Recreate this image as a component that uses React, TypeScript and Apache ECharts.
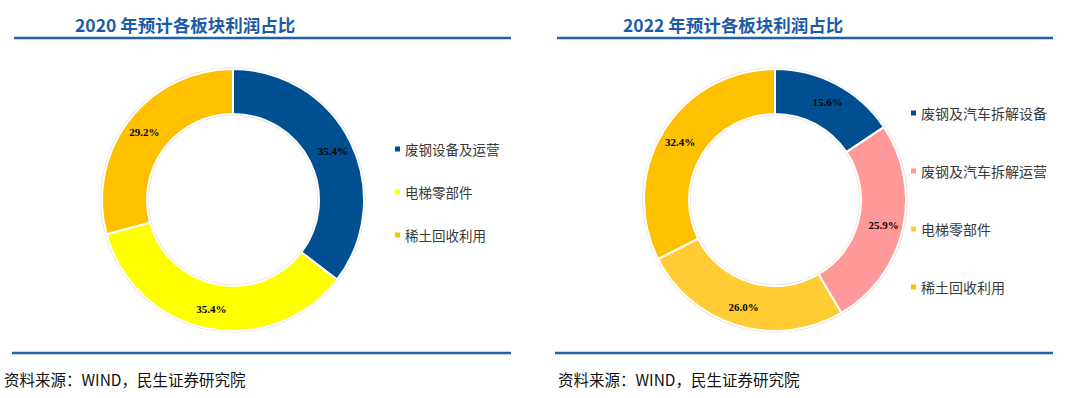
import React, { useEffect, useRef } from "react";
import * as echarts from "echarts";

const leftTitle = "2020 年预计各板块利润占比";
const leftNames = ["废钢设备及运营", "电梯零部件", "稀土回收利用"];
const leftValues = [35.4, 35.4, 29.2];
const leftColors = ["#004F90", "#FFFF00", "#FFC000"];

const rightTitle = "2022 年预计各板块利润占比";
const rightNames = ["废钢及汽车拆解设备", "废钢及汽车拆解运营", "电梯零部件", "稀土回收利用"];
const rightValues = [15.6, 25.9, 26.0, 32.4];
const rightColors = ["#004F90", "#FF9999", "#FFCC33", "#FFC000"];

const sourceText = "资料来源：WIND，民生证券研究院";

type PanelCfg = {
  title: string;
  names: string[];
  values: number[];
  colors: string[];
  titleX: number;
  lineX1: number;
  lineX2: number;
  footX1: number;
  footTextX: number;
  cx: number;
  legendLeft: number;
  legendTop: number;
  legendGap: number;
  legendFont: number;
};

const BLUE = "#1E5BA6";

function buildOption(c: PanelCfg): any {
  const data = c.names.map((n, i) => ({ name: n, value: c.values[i], itemStyle: { color: c.colors[i] } }));
  return {
    animation: false,
    legend: {
      orient: "vertical",
      left: c.legendLeft,
      top: c.legendTop,
      padding: 0,
      itemWidth: 5,
      itemHeight: 5,
      itemGap: c.legendGap,
      icon: "rect",
      selectedMode: false,
      data: c.names,
      itemStyle: { borderWidth: 0 },
      textStyle: {
        fontSize: c.legendFont,
        lineHeight: 14,
        color: "#3a3a3a",
        fontFamily: "Noto Sans CJK SC",
      },
    },
    graphic: [
      {
        type: "text",
        style: {
          text: c.title,
          x: c.titleX,
          y: 24,
          fill: BLUE,
          fontSize: 17.5,
          fontWeight: "bold",
          fontFamily: "Noto Sans CJK SC",
          textVerticalAlign: "middle",
        },
      },
      {
        type: "line",
        shape: { x1: c.lineX1, y1: 38, x2: c.lineX2, y2: 38 },
        style: { stroke: "#2461AC", lineWidth: 2.5 },
      },
      {
        type: "line",
        shape: { x1: c.footX1, y1: 353, x2: c.lineX2, y2: 353 },
        style: { stroke: "#2461AC", lineWidth: 2.5 },
      },
      {
        type: "text",
        style: {
          text: sourceText,
          x: c.footTextX,
          y: 379,
          fill: "#111",
          fontSize: 15.5,
          fontFamily: "Noto Sans CJK SC",
          textVerticalAlign: "middle",
        },
      },
    ],
    series: [
      {
        type: "pie",
        silent: true,
        center: [c.cx, 200],
        radius: [84.5, 132.5],
        startAngle: 90,
        label: { show: false },
        labelLine: { show: false },
        data: [{ name: "__bg", value: 1, itemStyle: { color: "#d9d9d9" } }],
        z: 1,
      },
      {
        type: "pie",
        center: [c.cx, 200],
        radius: [86, 131],
        startAngle: 90,
        clockwise: true,
        avoidLabelOverlap: false,
        itemStyle: { borderColor: "#ffffff", borderWidth: 2 },
        label: {
          show: true,
          position: "inside",
          formatter: (p: any) => `${Number(p.value).toFixed(1)}%`,
          fontFamily: "Liberation Serif",
          fontWeight: "bold",
          fontSize: 11,
          color: "#000",
        },
        labelLine: { show: false },
        emphasis: { disabled: true },
        data,
        z: 2,
      },
    ],
  };
}

const leftCfg: PanelCfg = {
  title: leftTitle,
  names: leftNames,
  values: leftValues,
  colors: leftColors,
  titleX: 75,
  lineX1: 14,
  lineX2: 511,
  footX1: 12,
  footTextX: 4,
  cx: 233,
  legendLeft: 395,
  legendTop: 142,
  legendGap: 29,
  legendFont: 13.5,
};

const rightCfg: PanelCfg = {
  title: rightTitle,
  names: rightNames,
  values: rightValues,
  colors: rightColors,
  titleX: 83,
  lineX1: 17,
  lineX2: 513,
  footX1: 15,
  footTextX: 18,
  cx: 235,
  legendLeft: 371,
  legendTop: 106,
  legendGap: 44,
  legendFont: 14,
};

function Panel({ cfg }: { cfg: PanelCfg }) {
  const ref = useRef<HTMLDivElement>(null);
  useEffect(() => {
    if (!ref.current) return;
    const chart = echarts.init(ref.current, undefined, { renderer: "svg" });
    chart.setOption(buildOption(cfg));
    return () => chart.dispose();
  }, [cfg]);
  return <div ref={ref} style={{ width: 540, height: 398 }} />;
}

export default function App() {
  return (
    <div
      style={{
        position: "absolute",
        left: 0,
        top: 0,
        width: 1080,
        height: 398,
        display: "flex",
        background: "#fff",
      }}
    >
      <Panel cfg={leftCfg} />
      <Panel cfg={rightCfg} />
    </div>
  );
}
